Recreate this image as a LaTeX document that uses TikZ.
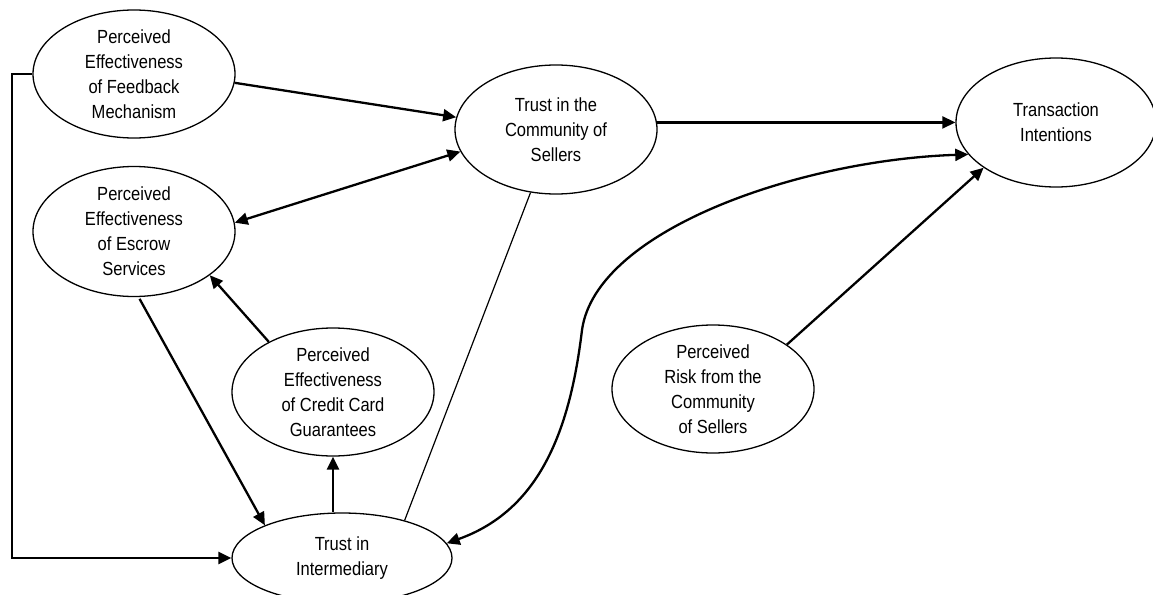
\documentclass[tikz,border=0pt]{standalone}
\usepackage{fontspec}
\setmainfont{Liberation Sans}[FakeStretch=0.87]
\usetikzlibrary{arrows.meta,shapes.geometric}
\begin{document}
\begin{tikzpicture}[x=1pt,y=-1pt,
  ell/.style={draw, line width=1.3pt, ellipse, inner xsep=0pt, inner ysep=-30pt,
    align=center, font=\fontsize{19}{25}\selectfont},
  arr/.style={line width=2.3pt, -{Triangle[length=13pt,width=12pt]}},
  dbl/.style={line width=2.3pt, {Triangle[length=13pt,width=12pt]}-{Triangle[length=13pt,width=12pt]}},
  plain/.style={line width=1.2pt}]
\clip (0,0) rectangle (1153,594);
\useasboundingbox (0,0) rectangle (1153,594);

\node[ell, minimum width=202pt, minimum height=128pt] (fb) at (134,74)
  {Perceived\\Effectiveness\\of Feedback\\Mechanism};
\node[ell, minimum width=202pt, minimum height=130pt] (es) at (134,231.5)
  {Perceived\\Effectiveness\\of Escrow\\Services};
\node[ell, minimum width=202pt, minimum height=129pt] (tc) at (556,129.5)
  {Trust in the\\Community of\\Sellers};
\node[ell, minimum width=200pt, minimum height=129pt] (tr) at (1056,122.5)
  {Transaction\\Intentions};
\node[ell, minimum width=202pt, minimum height=128pt] (cc) at (333,392)
  {Perceived\\Effectiveness\\of Credit Card\\Guarantees};
\node[ell, minimum width=202pt, minimum height=128pt] (rk) at (713,389)
  {Perceived\\Risk from the\\Community\\of Sellers};
\node[ell, minimum width=220pt, minimum height=90pt] (tin) at (342,558)
  {Trust in\\Intermediary};

\coordinate (lc) at (12,74);
\coordinate (bend) at (582,330);

\draw[arr] (fb.-5) -- (tc.173);
\draw[dbl] (es.5) -- (tc.193);
\draw[arr] (tc.4) -- (tc.4 -| tr.west);
\draw[arr] (cc.142) -- (es.-30);
\draw[arr, shorten <=2pt] (es.-86) -- (tin.157);
\draw[arr] (cc.south |- tin.north) -- (cc.south);
\draw[arr] (fb.west) -- (lc) |- (tin.west);
\draw[plain] (tc.248) -- (tin.31);
\draw[arr] (rk.31) -- (tr.212);
\draw[dbl] (tr.200) .. controls (800,160) and (596,230) .. (bend)
  .. controls (570,430) and (540,510) .. (tin.8);
\end{tikzpicture}
\end{document}
